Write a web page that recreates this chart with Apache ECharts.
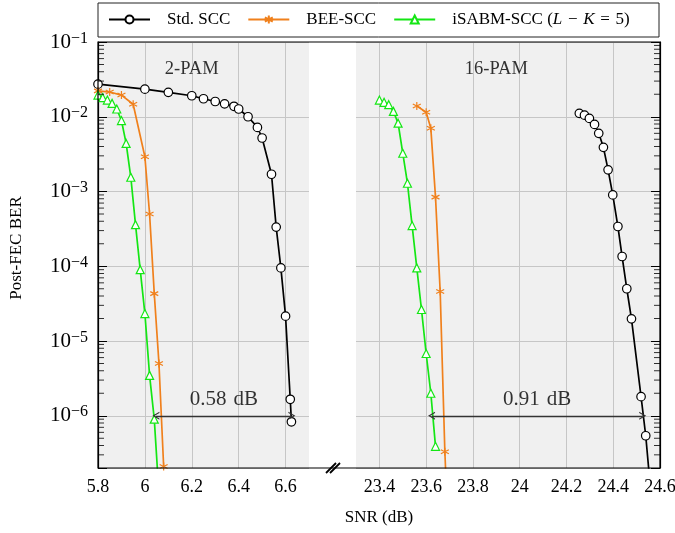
<!DOCTYPE html>
<html>
<head>
<meta charset="utf-8">
<script src="https://cdn.jsdelivr.net/npm/echarts@6/dist/echarts.min.js"></script>
<style>
html,body{margin:0;padding:0;background:#fff;}
#chart{width:675px;height:533px;}
</style>
</head>
<body>
<div id="chart"></div>
<script>
// ---------- data: 2-PAM panel ----------
const stdL_x   = [5.8, 6.0, 6.1, 6.2, 6.25, 6.3, 6.34, 6.38, 6.4, 6.44, 6.48, 6.5, 6.54, 6.56, 6.58, 6.6, 6.62, 6.625];
const stdL_y   = [2.73e-2, 2.34e-2, 2.12e-2, 1.91e-2, 1.74e-2, 1.60e-2, 1.49e-2, 1.38e-2, 1.27e-2, 1.0e-2, 7.2e-3, 5.2e-3, 1.7e-3, 3.34e-4, 9.5e-5, 2.15e-5, 1.66e-6, 8.3e-7];
const beeL_x   = [5.8, 5.85, 5.9, 5.95, 6.0, 6.02, 6.04, 6.06, 6.08];
const beeL_y   = [2.22e-2, 2.14e-2, 1.95e-2, 1.47e-2, 2.92e-3, 5.0e-4, 4.3e-5, 5.0e-6, 2.1e-7];
const isaL_x   = [5.8, 5.82, 5.84, 5.86, 5.88, 5.9, 5.92, 5.94, 5.96, 5.98, 6.0, 6.02, 6.04, 6.06];
const isaL_y   = [1.95e-2, 1.8e-2, 1.67e-2, 1.51e-2, 1.27e-2, 8.9e-3, 4.4e-3, 1.55e-3, 3.6e-4, 9.0e-5, 2.33e-5, 3.47e-6, 9.0e-7, 9.0e-8];

// ---------- data: 16-PAM panel ----------
const stdR_x   = [24.255, 24.277, 24.298, 24.32, 24.338, 24.358, 24.378, 24.398, 24.42, 24.438, 24.458, 24.478, 24.519, 24.539, 24.56];
const stdR_y   = [1.11e-2, 1.05e-2, 9.5e-3, 7.9e-3, 6.0e-3, 3.9e-3, 1.95e-3, 9.0e-4, 3.4e-4, 1.35e-4, 5.0e-5, 1.98e-5, 1.8e-6, 5.4e-7, 1.0e-7];
const beeR_x   = [23.56, 23.60, 23.62, 23.64, 23.66, 23.68, 23.70];
const beeR_y   = [1.39e-2, 1.15e-2, 7.0e-3, 8.4e-4, 4.6e-5, 3.3e-7, 1.0e-8];
const isaR_x   = [23.40, 23.42, 23.44, 23.46, 23.48, 23.50, 23.52, 23.54, 23.56, 23.58, 23.60, 23.62, 23.64];
const isaR_y   = [1.67e-2, 1.56e-2, 1.45e-2, 1.18e-2, 8.2e-3, 3.25e-3, 1.29e-3, 3.5e-4, 9.5e-5, 2.64e-5, 6.8e-6, 2.0e-6, 3.9e-7];

// ---------- annotations ----------
const panelLabelsL = [{ text: '2-PAM', x: 6.2, y: 4.35e-2 }];
const panelLabelsR = [{ text: '16-PAM', x: 23.9, y: 4.35e-2 }];
const gapArrowL = { from: 6.047, to: 6.627, y: 1e-6, text: '0.58\u2004dB', textY: 1.63e-6 };
const gapArrowR = { from: 23.623, to: 24.526, y: 1e-6, text: '0.91\u2004dB', textY: 1.63e-6 };

// ---------- axes ----------
const xRangeL = [5.8, 6.7];
const xRangeR = [23.3, 24.6];
const yRange  = [2e-7, 1e-1];
const minorTicks = [3e-7,4e-7,5e-7,6e-7,7e-7,8e-7,9e-7,
  2e-6,3e-6,4e-6,5e-6,6e-6,7e-6,8e-6,9e-6,
  2e-5,3e-5,4e-5,5e-5,6e-5,7e-5,8e-5,9e-5,
  2e-4,3e-4,4e-4,5e-4,6e-4,7e-4,8e-4,9e-4,
  2e-3,3e-3,4e-3,5e-3,6e-3,7e-3,8e-3,9e-3,
  2e-2,3e-2,4e-2,5e-2,6e-2,7e-2,8e-2,9e-2];

const NAME_STD = 'Std. SCC', NAME_BEE = 'BEE-SCC', NAME_ISA = 'iSABM-SCC (L − K = 5)';

const FONT = '"Liberation Serif", "Times New Roman", serif';
const BLACK = '#000000', ORANGE = '#f0801c', GREEN = '#14e614';
const GRIDC = '#c6c6c6', BG = '#f0f0f0';
const ASTERISK = 'path://M5,0L5,10M0.67,2.5L9.33,7.5M0.67,7.5L9.33,2.5';
const CHEVRON = 'path://M0,10L5,0L10,10L8.4,10L5,3.2L1.6,10Z';

function zip(xs, ys) { return xs.map((x, i) => [x, ys[i]]); }

function curve(name, xs, ys, idx, color, symbol, size) {
  return {
    type: 'line', name: name, xAxisIndex: idx, yAxisIndex: idx,
    data: zip(xs, ys), clip: true, z: 3,
    symbol: symbol, symbolSize: size, showSymbol: true,
    lineStyle: { color: color, width: 1.7 },
    itemStyle: { color: symbol === ASTERISK ? color : '#ffffff', borderColor: color, borderWidth: 1.2 },
    emphasis: { disabled: true }
  };
}

function xLabel(v) {
  const t = Math.round(v * 10);
  return (t % 2 === 0) ? String(t / 10) : '';
}
function yLabel(v) {
  const e = Math.log10(v), r = Math.round(e);
  if (Math.abs(e - r) > 1e-6) return '';
  return '{b|10}{s|−' + (-r) + '}';
}

function xAxisDef(grid, range, colors) {
  return {
    gridIndex: grid, type: 'value', min: range[0], max: range[1], interval: 0.1,
    axisLine: { show: false }, axisTick: { show: false },
    axisLabel: { formatter: xLabel, margin: 10, color: BLACK, fontFamily: FONT, fontSize: 18, hideOverlap: false },
    splitLine: { show: true, lineStyle: { color: colors, width: 1 } }
  };
}
function yAxisDef(grid, pos, labels) {
  return {
    gridIndex: grid, type: 'log', logBase: 10, min: yRange[0], max: yRange[1], position: pos,
    axisLine: { show: true, lineStyle: { color: BLACK, width: 1.2 } },
    axisTick: { show: true, inside: true, length: 9, lineStyle: { color: BLACK, width: 1 } },
    axisLabel: labels ? {
      show: true, formatter: yLabel, margin: 10, color: BLACK,
      rich: {
        b: { fontFamily: FONT, fontSize: 21, lineHeight: 23, color: BLACK },
        s: { fontFamily: FONT, fontSize: 16, lineHeight: 15, verticalAlign: 'top', color: BLACK }
      }
    } : { show: false },
    splitLine: { show: true, lineStyle: { color: GRIDC, width: 1 } }
  };
}

function noteSeries(idx, labels, arrow) {
  const pts = labels.map(l => ({ value: [l.x, l.y], label: { formatter: l.text, fontSize: 18.5 } }));
  pts.push({ value: [(arrow.from + arrow.to) / 2, arrow.textY], label: { formatter: arrow.text, fontSize: 21 } });
  return {
    type: 'scatter', name: 'notes' + idx, xAxisIndex: idx, yAxisIndex: idx, silent: true,
    symbolSize: 1, itemStyle: { color: 'rgba(0,0,0,0)' }, z: 6, clip: false,
    label: { show: true, position: 'inside', color: BLACK, fontFamily: FONT, fontSize: 18 },
    data: pts,
    markLine: {
      silent: true, symbol: [CHEVRON, CHEVRON], symbolSize: [8, 7],
      lineStyle: { color: '#333333', width: 1.3, type: 'solid' },
      label: { show: false }, emphasis: { disabled: true },
      data: [[{ coord: [arrow.from, arrow.y] }, { coord: [arrow.to, arrow.y] }]]
    }
  };
}

function minorSeries(idx, xEdge, offset) {
  return {
    type: 'scatter', name: 'minor' + idx, xAxisIndex: idx, yAxisIndex: idx, silent: true, clip: false,
    symbol: 'rect', symbolSize: [6, 1], symbolOffset: [offset, 0], z: 5,
    itemStyle: { color: BLACK },
    data: minorTicks.map(v => [xEdge, v])
  };
}

const chart = echarts.init(document.getElementById('chart'), null, { renderer: 'canvas' });
chart.setOption({
  animation: false,
  backgroundColor: '#ffffff',
  grid: [
    { left: 98, top: 42, width: 211, height: 426, show: true, backgroundColor: BG, borderWidth: 0, outerBoundsMode: 'none' },
    { left: 356, top: 42, width: 304, height: 426, show: true, backgroundColor: BG, borderWidth: 0, outerBoundsMode: 'none' },
    { left: 98, top: 42, width: 562, height: 426, show: true, backgroundColor: 'rgba(0,0,0,0)', borderColor: BLACK, borderWidth: 1.2, z: 8, outerBoundsMode: 'none' }
  ],
  xAxis: [ xAxisDef(0, xRangeL, [GRIDC, 'rgba(0,0,0,0)']), xAxisDef(1, xRangeR, ['rgba(0,0,0,0)', GRIDC]) ],
  yAxis: [ yAxisDef(0, 'left', true), yAxisDef(1, 'right', false) ],
  legend: {
    data: [NAME_STD, NAME_BEE, NAME_ISA],
    left: 108, top: 11, padding: 0, itemWidth: 41, itemHeight: 10, itemGap: 17,
    selectedMode: false,
    textStyle: {
      fontFamily: FONT, fontSize: 17, color: BLACK, padding: [0, 0, 0, 12],
      rich: {
        n: { fontFamily: FONT, fontSize: 17, color: BLACK },
        i: { fontFamily: FONT, fontSize: 17, fontStyle: 'italic', color: BLACK }
      }
    },
    formatter: function (name) {
      return name === NAME_ISA ? '{n|iSABM-SCC (}{i|L}{n|\u2004−\u2004}{i|K}{n|\u2004=\u20045)}' : name;
    }
  },
  graphic: [
    { type: 'rect', shape: { x: 98, y: 3, width: 561, height: 34 }, style: { fill: 'none', stroke: '#222', lineWidth: 1 }, silent: true, z: 10 },
    { type: 'text', x: 17, y: 248, rotation: Math.PI / 2, silent: true,
      style: { text: 'Post-FEC BER', font: '17px ' + FONT, fill: BLACK, textAlign: 'center', textVerticalAlign: 'middle' } },
    { type: 'text', x: 379, y: 518, silent: true,
      style: { text: 'SNR (dB)', font: '17px ' + FONT, fill: BLACK, textAlign: 'center', textVerticalAlign: 'middle' } },
    { type: 'line', shape: { x1: 326, y1: 473, x2: 336, y2: 463 }, style: { stroke: BLACK, lineWidth: 1.8 }, silent: true, z: 10 },
    { type: 'line', shape: { x1: 330, y1: 473, x2: 340, y2: 463 }, style: { stroke: BLACK, lineWidth: 1.8 }, silent: true, z: 10 }
  ],
  series: [
    curve(NAME_STD, stdL_x, stdL_y, 0, BLACK, 'circle', 8.5),
    curve(NAME_BEE, beeL_x, beeL_y, 0, ORANGE, ASTERISK, 8),
    curve(NAME_ISA, isaL_x, isaL_y, 0, GREEN, 'triangle', 8),
    curve(NAME_STD, stdR_x, stdR_y, 1, BLACK, 'circle', 8.5),
    curve(NAME_BEE, beeR_x, beeR_y, 1, ORANGE, ASTERISK, 8),
    curve(NAME_ISA, isaR_x, isaR_y, 1, GREEN, 'triangle', 8),
    minorSeries(0, xRangeL[0], 3),
    minorSeries(1, xRangeR[1], -3),
    noteSeries(0, panelLabelsL, gapArrowL),
    noteSeries(1, panelLabelsR, gapArrowR)
  ]
});
</script>
</body>
</html>
